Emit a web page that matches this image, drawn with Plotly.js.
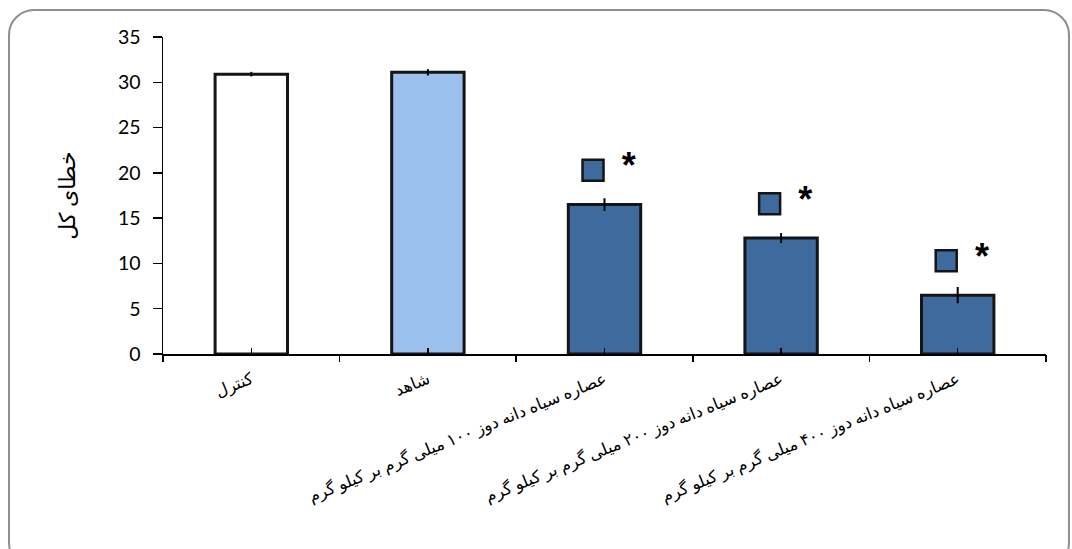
<!DOCTYPE html>
<html>
<head>
<meta charset="utf-8">
<script src="https://cdn.plot.ly/plotly-3.0.1.min.js"></script>
<style>
  html, body { margin: 0; padding: 0; background: #ffffff; }
  #frame {
    position: absolute; left: 8px; top: 9px; width: 1062px; height: 560px;
    box-sizing: border-box; border: 2px solid #8e8e8e; border-radius: 26px;
  }
  #chart { position: absolute; left: 0; top: 0; width: 1072px; height: 549px; }
</style>
</head>
<body>
<div id="frame"></div>
<div id="chart"></div>
<script>
// Group labels (Persian)
const categories = [
  'کنترل',
  'شاهد',
  'عصاره سیاه دانه دوز ۱۰۰ میلی گرم بر کیلو گرم',
  'عصاره سیاه دانه دوز ۲۰۰ میلی گرم بر کیلو گرم',
  'عصاره سیاه دانه دوز ۴۰۰ میلی گرم بر کیلو گرم'
];
// Total errors per group and their standard errors
const totalErrors = [30.9, 31.1, 16.5, 12.8, 6.5];
const errorValues = [0.25, 0.35, 0.7, 0.55, 0.9];
// Groups that differ significantly from the control
const significant = [false, false, true, true, true];
const yTicks = [0, 5, 10, 15, 20, 25, 30, 35];

const barFill = ['#ffffff', '#9cc0ee', '#3f6a9d', '#3f6a9d', '#3f6a9d'];
const darkBlue = '#3f6a9d';
const fontStack = 'Lato, "DejaVu Sans", sans-serif';

const idx = categories.map((_, i) => i);
const sigIdx = idx.filter(i => significant[i]);
const markY = sigIdx.map(i => totalErrors[i] + 3.8);

const traces = [
  {
    type: 'bar',
    x: idx,
    y: totalErrors,
    width: 0.41,
    marker: { color: barFill, line: { color: '#151515', width: 3 } },
    error_y: { type: 'data', array: errorValues, visible: true, color: '#000', thickness: 2, width: 0 },
    hoverinfo: 'skip',
    showlegend: false
  },
  {
    // legend-key squares beside the significance stars
    type: 'scatter',
    mode: 'markers',
    x: sigIdx.map(i => i - 0.065),
    y: markY,
    marker: { symbol: 'square', size: 21, color: darkBlue, line: { color: '#151515', width: 2.5 } },
    hoverinfo: 'skip',
    showlegend: false
  },
  {
    type: 'scatter',
    mode: 'text',
    x: sigIdx.map(i => i + 0.137),
    y: markY.map(v => v + 0.1),
    text: sigIdx.map(() => '*'),
    textfont: { family: '"Liberation Sans", sans-serif', size: 36, color: '#000', weight: 'bold' },
    textposition: 'middle center',
    hoverinfo: 'skip',
    showlegend: false
  }
];

const layout = {
  width: 1072,
  height: 549,
  margin: { l: 163, r: 26, t: 37, b: 195 },
  paper_bgcolor: 'rgba(0,0,0,0)',
  plot_bgcolor: 'rgba(0,0,0,0)',
  font: { family: fontStack, color: '#000' },
  xaxis: {
    range: [-0.5, 4.5],
    tickvals: idx,
    ticktext: categories,
    tickangle: -22,
    tickfont: { family: fontStack, size: 16.5, color: '#000' },
    ticklabelstandoff: 8,
    ticks: 'inside',
    ticklen: 6,
    tickwidth: 1.5,
    tickcolor: '#000',
    showline: true,
    linecolor: '#000',
    linewidth: 1.5,
    showgrid: false,
    zeroline: false,
    fixedrange: true
  },
  xaxis2: {
    overlaying: 'x',
    anchor: 'y',
    side: 'bottom',
    range: [-0.5, 4.5],
    tickvals: idx.concat([idx.length]).map(i => i - 0.5),
    ticks: 'outside',
    ticklen: 7,
    tickwidth: 1.5,
    tickcolor: '#000',
    showticklabels: false,
    showline: false,
    showgrid: false,
    zeroline: false,
    fixedrange: true
  },
  yaxis: {
    range: [0, 35],
    tickvals: yTicks,
    ticks: 'outside',
    ticklen: 9,
    tickwidth: 1.5,
    tickcolor: '#000',
    ticklabelstandoff: 8,
    tickfont: { family: fontStack, size: 19.5, color: '#000' },
    showline: true,
    linecolor: '#000',
    linewidth: 1.5,
    showgrid: false,
    zeroline: false,
    fixedrange: true,
    title: { text: 'خطای کل', font: { family: fontStack, size: 22, color: '#000' }, standoff: 36 }
  }
};

// invisible trace to bring the boundary-tick axis into the plot
traces.push({ type: 'scatter', x: [], y: [], xaxis: 'x2', yaxis: 'y', showlegend: false, hoverinfo: 'skip' });

Plotly.newPlot('chart', traces, layout, { displayModeBar: false, staticPlot: true });
</script>
</body>
</html>
